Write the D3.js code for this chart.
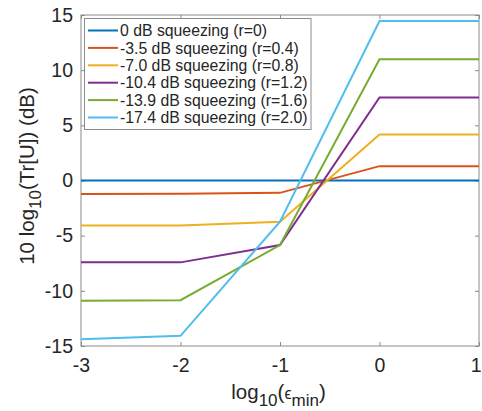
<!DOCTYPE html>
<html><head><meta charset="utf-8">
<script src="https://cdn.jsdelivr.net/npm/d3@7"></script>
<style>body{margin:0;background:#fff}svg{display:block}text{font-family:"Liberation Sans",Arial,Helvetica,sans-serif;fill:#262626}</style>
</head><body>
<script>
const xValues = [-3, -2, -1, 0, 1];
const seriesNames = ["0 dB squeezing (r=0)", "-3.5 dB squeezing (r=0.4)", "-7.0 dB squeezing (r=0.8)", "-10.4 dB squeezing (r=1.2)", "-13.9 dB squeezing (r=1.6)", "-17.4 dB squeezing (r=2.0)"];
const s0 = [0, 0, 0, 0, 0];
const s1 = [-1.22, -1.2, -1.12, 1.3, 1.3];
const s2 = [-4.08, -4.07, -3.73, 4.18, 4.18];
const s3 = [-7.42, -7.42, -5.85, 7.52, 7.52];
const s4 = [-10.9, -10.85, -5.85, 10.98, 10.98];
const s5 = [-14.38, -14.08, -3.73, 14.45, 14.45];
const seriesValues = [s0, s1, s2, s3, s4, s5];
const colors = ["#0072BD", "#D95319", "#EDB120", "#7E2F8E", "#77AC30", "#4DBEEE"];
const xTicks = [-3, -2, -1, 0, 1];
const yTicks = [-15, -10, -5, 0, 5, 10, 15];

const W = 482, H = 411;
const L = 81, R = 479, T = 15, B = 346;
const svg = d3.select("body").append("svg").attr("width", W).attr("height", H);
const x = d3.scaleLinear().domain([-3, 1]).range([L, R]);
const y = d3.scaleLinear().domain([-15, 15]).range([B, T]);

const axisColor = "#8a8a8a";
svg.append("rect").attr("x", L).attr("y", T).attr("width", R - L).attr("height", B - T)
  .attr("fill", "none").attr("stroke", axisColor).attr("stroke-width", 1);

const fmt = d => String(d);
const tl = 4;
const gx = svg.append("g").attr("transform", `translate(0,${B})`)
  .call(d3.axisBottom(x).tickValues(xTicks).tickSize(-tl).tickPadding(12).tickFormat(fmt));
const gxt = svg.append("g").attr("transform", `translate(0,${T})`)
  .call(d3.axisTop(x).tickValues(xTicks).tickSize(-tl).tickFormat(""));
const gy = svg.append("g").attr("transform", `translate(${L},0)`)
  .call(d3.axisLeft(y).tickValues(yTicks).tickSize(-tl).tickPadding(8).tickFormat(fmt));
const gyr = svg.append("g").attr("transform", `translate(${R},0)`)
  .call(d3.axisRight(y).tickValues(yTicks).tickSize(-tl).tickFormat(""));
[gx, gxt, gy, gyr].forEach(g => {
  g.select(".domain").remove();
  g.selectAll("line").attr("stroke", axisColor);
  g.selectAll("text").attr("font-size", 19.5).attr("fill", "#262626")
    .style("font-family", '"Liberation Sans",Arial,sans-serif');
});
// keep the last x tick label inside the picture
gx.selectAll(".tick").filter(d => d === 1).select("text").attr("text-anchor", "end").attr("x", 2);

const line = d3.line().x((d, i) => x(xValues[i])).y(d => y(d));
seriesValues.forEach((s, k) => {
  svg.append("path").datum(s).attr("d", line).attr("fill", "none")
    .attr("stroke", colors[k]).attr("stroke-width", 2);
});

// legend
const lg = svg.append("g");
lg.append("rect").attr("x", 84.5).attr("y", 18.5).attr("width", 226.5).attr("height", 111)
  .attr("fill", "#fff").attr("stroke", axisColor).attr("stroke-width", 1);
seriesNames.forEach((n, k) => {
  const yy = 30.5 + k * 17.4;
  lg.append("line").attr("x1", 88).attr("x2", 118).attr("y1", yy).attr("y2", yy)
    .attr("stroke", colors[k]).attr("stroke-width", 2);
  lg.append("text").attr("x", 120).attr("y", yy).attr("dy", "0.36em")
    .attr("font-size", 15.8).text(n);
});

// axis titles
const xt = svg.append("text").attr("x", 278.5).attr("y", 399).attr("text-anchor", "middle").attr("font-size", 20.5);
xt.append("tspan").text("log");
xt.append("tspan").attr("font-size", 17).attr("dy", 7).text("10");
xt.append("tspan").attr("dy", -7).text("(");
xt.append("tspan").attr("font-size", 16).text("\u03F5");
xt.append("tspan").attr("font-size", 17).attr("dy", 7).text("min");
xt.append("tspan").attr("dy", -7).text(")");

const yt = svg.append("text").attr("transform", "translate(34,176) rotate(-90)").attr("text-anchor", "middle").attr("font-size", 20.5);
yt.append("tspan").text("10 log");
yt.append("tspan").attr("font-size", 17).attr("dy", 7).text("10");
yt.append("tspan").attr("dy", -7).text("(Tr[U]) (dB)");
</script>
</body></html>
